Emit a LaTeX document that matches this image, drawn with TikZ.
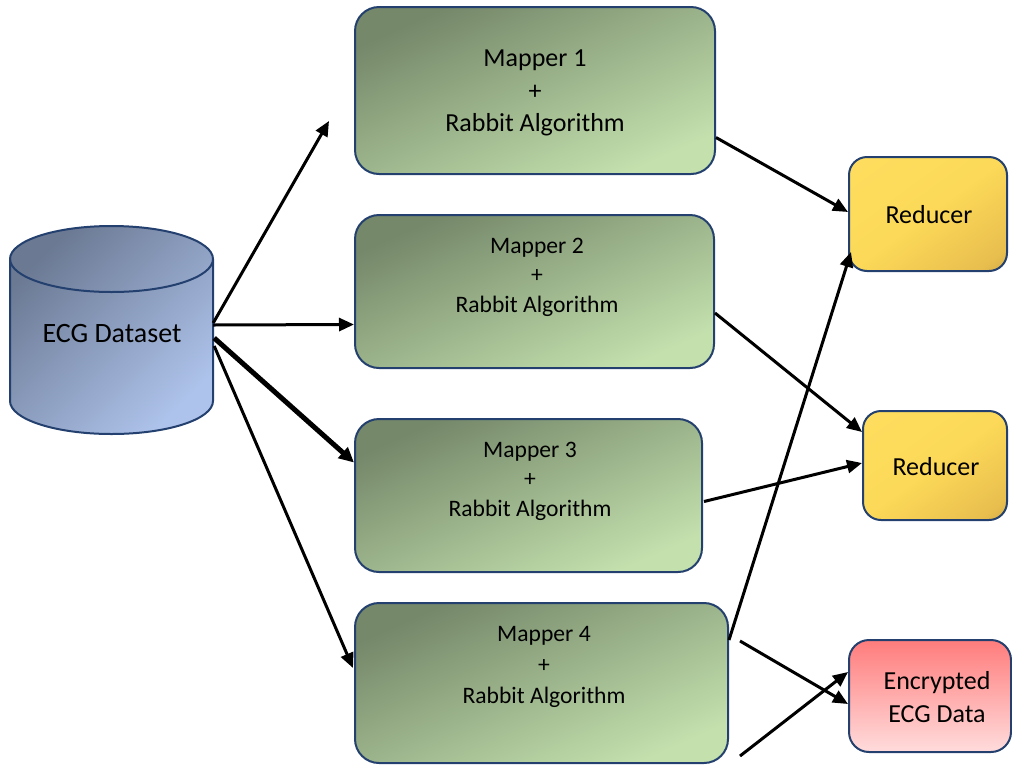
\documentclass[tikz,border=0pt]{standalone}
\usepackage{fontspec}
\setmainfont{Carlito}
\usetikzlibrary{arrows.meta,calc}

\definecolor{edgeblue}{HTML}{24406E}
\definecolor{mapdark}{HTML}{75886A}
\definecolor{maplight}{HTML}{C3E0AD}
\definecolor{dbdark}{HTML}{6B7993}
\definecolor{dblight}{HTML}{AEC3EB}
\definecolor{enctop}{HTML}{FF7C7C}
\definecolor{encbottom}{HTML}{FFDCDC}

% yellow box that darkens towards its lower right corner
\pgfdeclarehorizontalshading{reducershade}{100bp}{%
  color(0bp)=(rgb,255:red,255;green,224;blue,98);
  color(50bp)=(rgb,255:red,252;green,217;blue,88);
  color(78bp)=(rgb,255:red,232;green,190;blue,78);
  color(100bp)=(rgb,255:red,168;green,132;blue,58)}

\tikzset{
  mapbox/.style={draw=edgeblue, line width=2pt, rounded corners=24pt,
    top color=mapdark, bottom color=maplight, shading angle=24, inner sep=0pt},
  redbox/.style={draw=edgeblue, line width=2pt, rounded corners=18pt,
    shading=reducershade, shading angle=-54, inner sep=0pt},
  encbox/.style={draw=edgeblue, line width=2pt, rounded corners=20pt,
    top color=enctop, bottom color=encbottom, inner sep=0pt},
  maptext/.style={align=center, font=\fontsize{23.6}{29.5}\selectfont},
  arr/.style={line width=3pt, -{Triangle[length=15pt,width=13pt]}},
  arrbold/.style={line width=5pt, -{Triangle[length=15pt,width=14pt]}},
}

\begin{document}
\begin{tikzpicture}[x=1pt, y=-1pt]
  \useasboundingbox (0,0) rectangle (1012,764);

  % database cylinder
  \path[top color=dbdark, bottom color=dblight, shading angle=45]
    (10,259) -- (10,401) arc[start angle=180, end angle=0, x radius=101.5, y radius=33]
    -- (213,259) arc[start angle=360, end angle=180, x radius=101.5, y radius=33] -- cycle;
  \draw[edgeblue, line width=2pt]
    (10,259) -- (10,401) arc[start angle=180, end angle=0, x radius=101.5, y radius=33]
    -- (213,259) arc[start angle=360, end angle=180, x radius=101.5, y radius=33] -- cycle;
  \draw[edgeblue, line width=2pt]
    (10,259) arc[start angle=180, end angle=0, x radius=101.5, y radius=33];
  \node[inner sep=0pt, minimum width=203pt, minimum height=208pt] (db) at (111.5,330) {};
  \node[font=\fontsize{28}{34}\selectfont] (dbtext) at (112,334) {ECG Dataset};

  % mappers
  \node[mapbox, minimum width=360pt, minimum height=167pt] (m1) at (535,90.5) {};
  \node[mapbox, minimum width=359pt, minimum height=153pt] (m2) at (534.5,291.5) {};
  \node[mapbox, minimum width=347pt, minimum height=153pt] (m3) at (528.5,495.5) {};
  \node[mapbox, minimum width=373pt, minimum height=160pt] (m4) at (541.5,683) {};

  \node[maptext, font=\fontsize{26}{32.5}\selectfont] (m1text) at (535,93)
    {Mapper 1\\+\\Rabbit Algorithm};
  \node[maptext] (m2text) at (537,277) {Mapper 2\\+\\Rabbit Algorithm};
  \node[maptext] (m3text) at (530,481) {Mapper 3\\+\\Rabbit Algorithm};
  \node[maptext, font=\fontsize{23.6}{31}\selectfont] (m4text) at (544,667)
    {Mapper 4\\+\\Rabbit Algorithm};

  % reducers and output
  \node[redbox, minimum width=158pt, minimum height=114pt] (r1) at (928,214) {};
  \node[redbox, minimum width=144pt, minimum height=109pt] (r2) at (935,465.5) {};
  \node[encbox, minimum width=162pt, minimum height=112pt] (enc) at (930,696) {};

  \node[font=\fontsize{26}{32}\selectfont] (r1text) at (929,215) {Reducer};
  \node[font=\fontsize{26}{32}\selectfont] (r2text) at (936,467) {Reducer};
  \node[align=center, font=\fontsize{26}{33}\selectfont] (enctext) at (937,697)
    {Encrypted\\ECG Data};

  % loose arrow ends
  \coordinate (m1near) at (329,121);
  \coordinate (lowA) at (740,641);
  \coordinate (lowB) at (740,756);

  % dataset to mappers
  \draw[arr] ($(db.east)+(0,-7)$) -- (m1near);
  \draw[arr] ($(db.east)+(0,-5)$) -- ($(m2.west)+(0,33)$);
  \draw[arrbold] ($(db.east)+(1,8)$) -- ($(m3.west)+(0,-33)$);
  \draw[arr] ($(db.east)+(1,16)$) -- ($(m4.west)+(-1,-15)$);

  % mappers to reducers
  \draw[arr] ($(m1.east)+(0,47)$) -- ($(r1.west)+(0,-2)$);
  \draw[arr] ($(m2.east)+(0,21.5)$) -- ($(r2.west)+(0,-33.5)$);
  \draw[arr] ($(m3.east)+(1,6)$) -- ($(r2.west)+(0,-2.5)$);
  \draw[arr] ($(m4.east)+(0,-43)$) -- ($(r1.west)+(3,38)$);

  % crossing arrows into the output box
  \draw[arr] (lowA) -- ($(enc.west)+(0,8)$);
  \draw[arr] (lowB) -- ($(enc.west)+(0,-24)$);
\end{tikzpicture}
\end{document}
